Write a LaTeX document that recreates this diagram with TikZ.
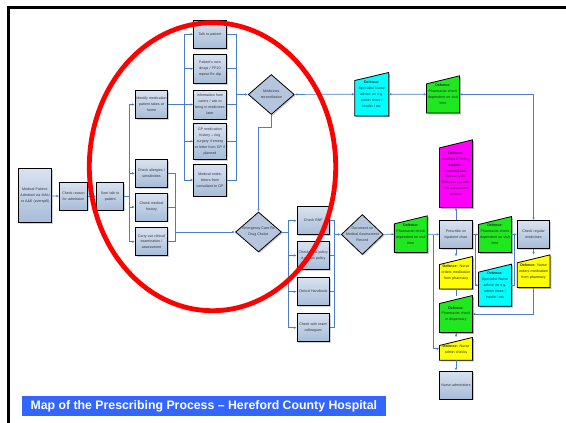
\documentclass[tikz,border=0pt]{standalone}
\usepackage{fontspec}
\setmainfont{Liberation Sans}
\usepackage{tikz}
\usetikzlibrary{arrows.meta, positioning, shapes.geometric, shadows}
\usepackage{xcolor}

\definecolor{linkblue}{RGB}{74,126,200}
\definecolor{boxtop}{RGB}{216,226,240}
\definecolor{boxbot}{RGB}{168,188,216}
\definecolor{dmdfill}{RGB}{180,197,221}
\definecolor{defcyan}{RGB}{0,255,255}
\definecolor{defgreen}{RGB}{30,232,30}
\definecolor{defmagenta}{RGB}{255,0,255}
\definecolor{defyellow}{RGB}{255,255,0}
\definecolor{titleblue}{RGB}{51,102,255}
\newcommand{\smalltxt}{\fontsize{3.6}{5.9}\selectfont}
\pgfdeclarelayer{background}
\pgfsetlayers{background,main}

\tikzset{
  procbox/.style={rectangle, draw=black, line width=0.8pt, top color=boxtop, bottom color=boxbot,
    minimum width=32.5pt, minimum height=28pt, text width=31pt, align=center, inner sep=0.5pt,
    font=\smalltxt, text=black!80,
    drop shadow={shadow xshift=1.3pt, shadow yshift=-1.3pt, opacity=0.3, fill=black!60}},
  defbox/.style={rectangle, minimum width=32.5pt, text width=31pt, align=center, inner sep=0.5pt,
    font=\smalltxt, text=black!85},
  dmd/.style={diamond, draw=black, line width=0.8pt, fill=dmdfill, minimum width=46pt,
    minimum height=40pt, inner sep=0pt,
    drop shadow={shadow xshift=1.3pt, shadow yshift=-1.3pt, opacity=0.3, fill=black!60}},
  dmdtext/.style={font=\smalltxt, align=center, text=black!80, inner sep=0pt},
  bus/.style={draw=linkblue, line width=0.7pt},
  link/.style={bus, -{Latex[length=2.8pt,width=2.4pt]}},
  both/.style={bus, {Latex[length=2.8pt,width=2.4pt]}-{Latex[length=2.8pt,width=2.4pt]}},
}

\begin{document}
\begin{tikzpicture}[x=1pt, y=-1pt]
\useasboundingbox (0,0) rectangle (566,423);
\draw[line width=3pt] (8,423) -- (8,7.7) -- (566,7.7);

\node[procbox, minimum height=54pt] (patient) at (35,195.7) {Medical Patient:\\Admitted via MAU\\or A\&E (overspill)};
\node[procbox, minimum width=28pt, text width=27pt, minimum height=27.5pt] (reason) at (73.5,196.3) {Check reason\\for admission};
\node[procbox, minimum width=27pt, text width=26pt, minimum height=27.5pt] (seetalk) at (110.2,196.3) {See/ talk to\\patient};

\node[procbox] (identify) at (151.5,104.5) {Identify medication\\patient takes at\\home};
\node[procbox] (allergy) at (151.5,173.3) {Check allergies /\\sensitivities};
\node[procbox] (history) at (151.5,207) {Check medical\\history};
\node[procbox] (exam) at (151.5,241.7) {Carry out clinical\\examination /\\assessment};

\node[procbox] (talk) at (210,34.2) {Talk to patient};
\node[procbox, minimum height=29.3pt] (owndrugs) at (210,68.7) {Patient's own\\drugs / FP10\\repeat Rx slip};
\node[procbox, minimum height=29pt] (carers) at (210,104.5) {Information from\\carers / ask to\\bring in medicines\\later};
\node[procbox, minimum height=36pt] (gphist) at (210,141.3) {GP medication\\history -- ring\\surgery if emerg\\or letter from GP if\\planned};
\node[procbox, minimum height=32pt] (notes) at (210,180) {Medical notes;\\letters from\\consultant to GP};

\node[dmd, label={[dmdtext]center:{Medicines\\reconciliation}}] (medrec) at (271.3,94.5) {};
\node[dmd, label={[dmdtext]center:{Emergency Care Rx\\Drug Choice}}] (ercx) at (258.5,232) {};

\node[procbox] (bnf) at (313.3,220.7) {Check BNF};
\node[procbox] (localpol) at (313.3,255.5) {Check local policy\\e.g. abx policy};
\node[procbox] (oxford) at (313.3,291.7) {Oxford Handbook};
\node[procbox] (team) at (313.3,327.7) {Check with team/\\colleagues};

\node[dmd, minimum width=42pt, label={[dmdtext]center:{Document on\\Medical Assessment\\Record}}] (document) at (362.3,234.5) {};

\node[defbox, minimum width=33.5pt, minimum height=43pt] (nurse1) at (371.7,94.2) {\textbf{Defence:}\\Specialist Nurse\\advice on e.g.\\admin times /\\insulin / etc};
\node[defbox, minimum height=36.7pt] (pharm1) at (443,94.4) {\textbf{Defence:}\\Pharmacist check\\dependent on visit\\time};
\node[defbox, minimum height=67.3pt] (support) at (456,173.7) {\textbf{Defence:}\\Additional Rx'ing\\support --\\Anticoagulant;\\Gentamycin;\\Chlordiazepoxide;\\ITU substantive\\stickers};
\node[defbox, minimum height=36.3pt] (pharm2) at (410.8,234.2) {\textbf{Defence:}\\Pharmacist check\\dependent on visit\\time};
\node[procbox, minimum height=27.6pt] (prescribe) at (456,234.5) {Prescribe on\\inpatient chart};
\node[defbox, minimum height=35.6pt] (pharm3) at (495,234.5) {\textbf{Defence:}\\Pharmacist check\\dependent on visit\\time};
\node[procbox, minimum height=27.6pt] (regular) at (533.6,234.5) {Check regular\\medicines};
\node[defbox, minimum height=32pt] (orders1) at (456,272.7) {\textbf{Defence:} Nurse\\orders medication\\from pharmacy};
\node[defbox, minimum height=41.7pt] (nurse2) at (495,285.2) {\textbf{Defence:}\\Specialist Nurse\\advice on e.g.\\admin times /\\insulin / etc};
\node[defbox, minimum height=32.3pt] (orders2) at (533.6,271.2) {\textbf{Defence:} Nurse\\orders medication\\from pharmacy};
\node[defbox, minimum height=36.6pt] (dispense) at (456,314) {\textbf{Defence:}\\Pharmacist check\\in dispensary};
\node[defbox, minimum height=22.3pt] (admincheck) at (456,348.8) {\textbf{Defence:} Nurse\\admin checks};
\node[procbox] (administer) at (456,385) {Nurse administers};

\begin{pgfonlayer}{background}
\foreach \n/\c in {nurse1/defcyan, pharm1/defgreen, support/defmagenta, pharm2/defgreen, pharm3/defgreen,
    orders1/defyellow, nurse2/defcyan, orders2/defyellow, dispense/defgreen, admincheck/defyellow}{
  \fill[black!30] ([shift={(1.3pt,-1.3pt)}]\n.south west) -- ([shift={(1.3pt,-9.3pt)}]\n.north west)
    -- ([shift={(1.3pt,-1.3pt)}]\n.north east) -- ([shift={(1.3pt,-1.3pt)}]\n.south east) -- cycle;
  \draw[fill=\c, line width=0.8pt] (\n.south west) -- ([yshift=-8pt]\n.north west)
    -- (\n.north east) -- (\n.south east) -- cycle;
}
\end{pgfonlayer}

\draw[link] (patient) -- (reason);
\draw[link] (reason) -- (seetalk);
\coordinate (busA) at (129.2,196.3);
\draw[bus] (seetalk) -- (busA);
\foreach \n in {identify, allergy, history, exam} \draw[link] (busA) |- (\n);

\coordinate (busB) at (184,104.5);
\draw[bus] (identify) -- (busB);
\foreach \n in {talk, owndrugs, carers, gphist, notes} \draw[link] (busB) |- (\n);
\coordinate (busC) at (236.5,94.5);
\foreach \n in {talk, owndrugs, carers, gphist, notes} \draw[bus] (\n) -| (busC);
\draw[link] (busC) -- (medrec);

\coordinate (recbend) at (258.5,127.7);
\draw[link] (medrec) |- (recbend) -- (ercx);
\coordinate (busD) at (175.8,232);
\foreach \n in {allergy, history, exam} \draw[bus] (\n) -| (busD);
\draw[link] (busD) -- (ercx);

\coordinate (busE) at (288.8,232);
\draw[bus] (ercx) -- (busE);
\foreach \n in {bnf, localpol, oxford, team} \draw[link] (busE) |- (\n);
\coordinate (busF) at (334.7,234.5);
\foreach \n in {bnf, localpol, oxford, team} \draw[bus] (\n) -| (busF);
\draw[link] (busF) -- (document);

\draw[both] (medrec) -- (nurse1);
\draw[both] (nurse1) -- (pharm1);
\draw[both] (pharm1) -| (regular);

\draw[link] (document) -- (pharm2);
\draw[link] (pharm2) -- (prescribe);
\coordinate (split1) at (433.3,234.5);
\draw[link] (split1) |- (admincheck);
\draw[link] (prescribe) -- (pharm3);
\coordinate (split2) at (475.3,234.5);
\draw[link] (split2) |- (nurse2);
\draw[link] (pharm3) -- (regular);
\coordinate (split3) at (514.4,234.5);
\draw[bus] (split3) |- (nurse2);
\draw[link] (prescribe) -- (support);
\draw[link] (prescribe) -- (orders1);
\draw[link] (regular) -- (orders2);
\draw[link] (orders2) |- (dispense);
\draw[bus] (orders1) -- (dispense);
\draw[link] (dispense) -- (admincheck);
\draw[link] (admincheck) -- (administer);

\draw[red, line width=4.8pt] (212.5,166.7) ellipse [x radius=123.2, y radius=144];

\node[fill=titleblue, text=white, minimum width=363.5pt, minimum height=20.5pt, inner sep=0pt,
  font=\fontsize{12.3}{14}\selectfont\bfseries] (title) at (203.8,406) {Map of the Prescribing Process -- Hereford County Hospital};
\end{tikzpicture}
\end{document}
